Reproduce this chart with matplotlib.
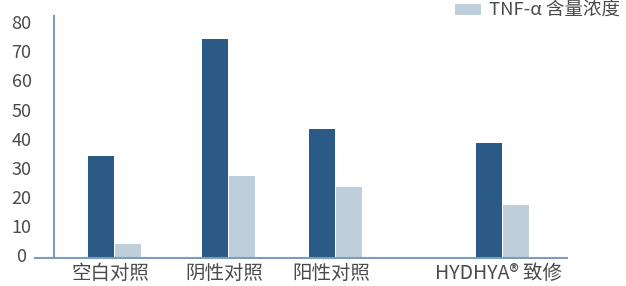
import matplotlib
matplotlib.use("Agg")
import matplotlib.pyplot as plt
import matplotlib.transforms as mtransforms
import numpy as np

# data
groups = ["空白对照", "阴性对照", "阳性对照", "HYDHYA® 致修"]
series_dark = [35.0, 75.3, 44.3, 39.5]
series_light = [4.8, 28.2, 24.4, 18.2]
light_label = "TNF-α 含量浓度"
y_ticks = [0, 10, 20, 30, 40, 50, 60, 70, 80]

# layout (pixel-like x units)
group_pos = np.array([114.5, 228.5, 335.5, 502.5])
bar_w = 26
W, H = 626, 286

plt.rcParams['font.family'] = ['Noto Sans CJK SC', 'DejaVu Sans']
dark = "#2a5a85"
light = "#bfcedb"
axis_col = "#7d9cba"
text_col = "#4a4a4a"

fig = plt.figure(figsize=(W / 100, H / 100), dpi=100)
ax = fig.add_axes([35 / W, 1 - 258 / H, (567 - 35) / W, (258 - 16) / H])

ax.bar(group_pos - bar_w / 2 - 0.5, series_dark, width=bar_w, color=dark, zorder=2)
bl = ax.bar(group_pos + bar_w / 2 + 0.5, series_light, width=bar_w, color=light,
            zorder=2, label=light_label)

ax.set_xlim(35, 567)
ax.set_ylim(0, 83.2)

for s in ["top", "right"]:
    ax.spines[s].set_visible(False)
ax.spines["left"].set_position(("data", 54))
ax.spines["left"].set_color(axis_col)
ax.spines["bottom"].set_color(axis_col)
ax.spines["left"].set_linewidth(1.5)
ax.spines["bottom"].set_linewidth(1.5)

ax.set_yticks(y_ticks)
ax.tick_params(axis="y", length=0, pad=23.4, labelsize=13, labelcolor=text_col)
offset = mtransforms.ScaledTranslation(0, 3 / 100, fig.dpi_scale_trans)
for lab in ax.get_yticklabels():
    lab.set_ha("center")
    lab.set_transform(lab.get_transform() + offset)

ax.set_xticks(group_pos - 4)
ax.set_xticklabels(groups)
ax.tick_params(axis="x", length=0, pad=3.5, labelsize=14, labelcolor=text_col)

fig.legend(handles=[bl], loc="upper left", bbox_to_anchor=(455 / W, 1 - 2 / H),
           frameon=False, borderpad=0, borderaxespad=0, handlelength=1.4,
           handleheight=0.62, handletextpad=0.45, fontsize=13.3, labelcolor=text_col)

fig.savefig("out.png", dpi=100)
